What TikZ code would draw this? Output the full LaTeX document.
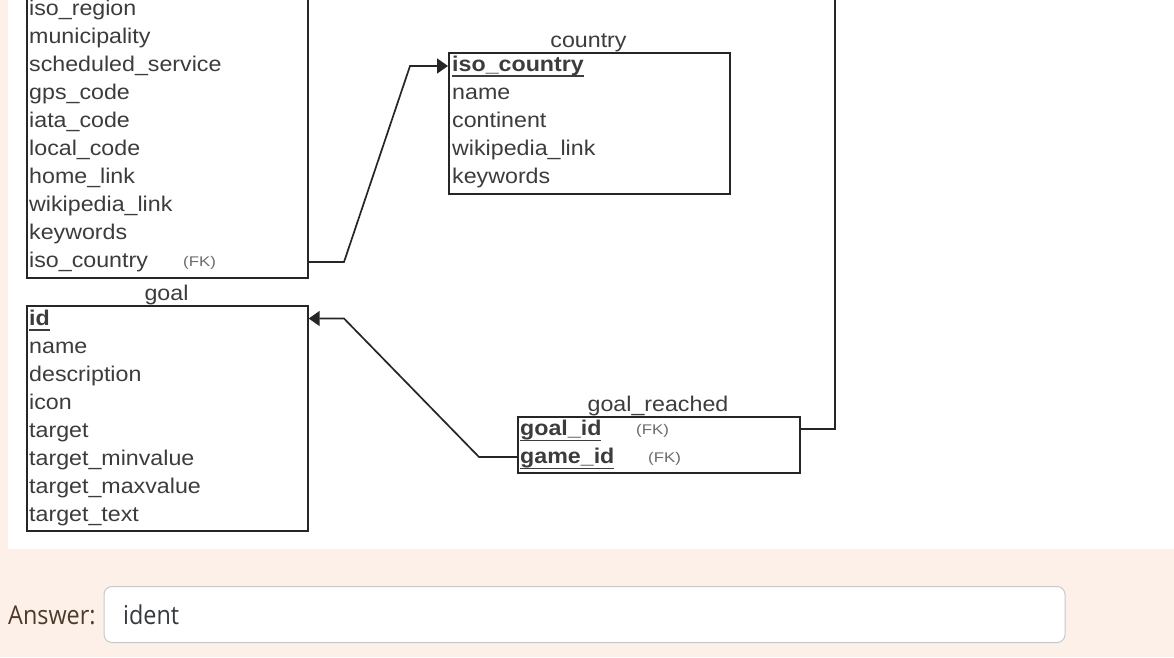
\documentclass[tikz,border=0pt]{standalone}
\usepackage{fontspec}
\setmainfont{Liberation Sans}
\newfontfamily\erfont[FakeStretch=1.09]{Liberation Sans}
\newfontfamily\fkfont[FakeStretch=1.2]{Liberation Sans}
\newfontfamily\uifont[FakeStretch=0.9]{Open Sans}
\usetikzlibrary{arrows.meta}

\definecolor{pagebg}{HTML}{FDF0E9}
\definecolor{edgecol}{HTML}{262626}
\definecolor{txtcol}{HTML}{3C3C3C}
\definecolor{fkcol}{HTML}{6A6A6A}
\definecolor{labcol}{HTML}{4D3B2A}
\definecolor{inputtxt}{HTML}{343A40}
\definecolor{inputedge}{HTML}{C5C9CE}

% primary key: bold text with a heavy underline
\newcommand\pkey[1]{\setbox0\hbox{\bfseries #1}\mbox{\rlap{\rule[-5.5pt]{\wd0}{1.5pt}}\box0}}

\tikzset{
  tbl/.style={draw=edgecol, line width=1.7pt, fill=white, anchor=north west, inner sep=0pt},
  row/.style={anchor=base west, inner sep=0pt, text=txtcol, font=\erfont\fontsize{21.3pt}{24pt}\selectfont},
  title/.style={anchor=base, inner sep=0pt, text=txtcol, font=\erfont\fontsize{21.3pt}{24pt}\selectfont},
  fk/.style={anchor=base west, inner sep=0pt, text=fkcol, font=\fkfont\fontsize{14pt}{16pt}\selectfont},
  conn/.style={draw=edgecol, line width=1.7pt, line join=miter},
  fkarrow/.style={conn, -{Triangle[length=11pt, width=15pt]}}
}

\begin{document}
\begin{tikzpicture}[x=1pt, y=-1pt]
\useasboundingbox (0,0) rectangle (1174,657);
\clip (0,0) rectangle (1174,657);
\fill[pagebg] (0,0) rectangle (1174,657);
\fill[white] (8,0) rectangle (1174,549);

% airport table (top part runs off the sheet)
\node[tbl, minimum width=281pt, minimum height=327pt] (airport) at (26,-50) {};
\node[row] (a1) at (29,15) {iso\_region};
\node[row] (a2) at (29,43) {municipality};
\node[row] (a3) at (29,71) {scheduled\_service};
\node[row] (a4) at (29,99) {gps\_code};
\node[row] (a5) at (29,127) {iata\_code};
\node[row] (a6) at (29,155) {local\_code};
\node[row] (a7) at (29,183) {home\_link};
\node[row] (a8) at (29,211) {wikipedia\_link};
\node[row] (a9) at (29,239) {keywords};
\node[row] (a10) at (29,267) {iso\_country};
\node[fk] (a10fk) at (183,266) {(FK)};

% country table
\node[tbl, minimum width=281pt, minimum height=141pt] (country) at (448,52) {};
\node[title] (countrytitle) at (588.5,47) {country};
\node[row] (c1) at (452,71) {\pkey{iso\_country}};
\node[row] (c2) at (452,99) {name};
\node[row] (c3) at (452,127) {continent};
\node[row] (c4) at (452,155) {wikipedia\_link};
\node[row] (c5) at (452,183) {keywords};

% goal table
\node[tbl, minimum width=281pt, minimum height=225pt] (goal) at (26,305) {};
\node[title] (goaltitle) at (166.5,300) {goal};
\node[row] (g1) at (29,325) {\pkey{id}};
\node[row] (g2) at (29,353) {name};
\node[row] (g3) at (29,381) {description};
\node[row] (g4) at (29,409) {icon};
\node[row] (g5) at (29,437) {target};
\node[row] (g6) at (29,465) {target\_minvalue};
\node[row] (g7) at (29,493) {target\_maxvalue};
\node[row] (g8) at (29,521) {target\_text};

% goal_reached table
\node[tbl, minimum width=282pt, minimum height=56pt] (reached) at (517,416) {};
\node[title] (reachedtitle) at (658,411) {goal\_reached};
\node[row] (r1) at (520,435.5) {\pkey{goal\_id}};
\node[fk] (r1fk) at (636,434.5) {(FK)};
\node[row] (r2) at (520,463.5) {\pkey{game\_id}};
\node[fk] (r2fk) at (648,462.5) {(FK)};

% relationships
\draw[fkarrow] (airport.east |- 0,262) -- (344,262) -- (410,66) -- (country.west |- 0,66);
\draw[fkarrow] (reached.west |- 0,457) -- (479,457) -- (344,318.5) -- (goal.east |- 0,318.5);
\coordinate (gameend) at (835,-10);
\draw[conn] (reached.east |- 0,429) -- (835,429) -- (gameend);

% answer field
\node[anchor=base west, inner sep=0pt, text=labcol, font=\uifont\fontsize{26pt}{30pt}\selectfont] (answerlabel) at (8,624) {Answer:};
\node[draw=inputedge, line width=1pt, fill=white, rounded corners=8pt, anchor=north west,
      minimum width=961pt, minimum height=56pt, inner sep=0pt] (answerbox) at (103.5,586) {};
\node[anchor=base west, inner sep=0pt, text=inputtxt, font=\uifont\fontsize{26pt}{30pt}\selectfont] (answertext) at (123,624) {ident};
\end{tikzpicture}
\end{document}
